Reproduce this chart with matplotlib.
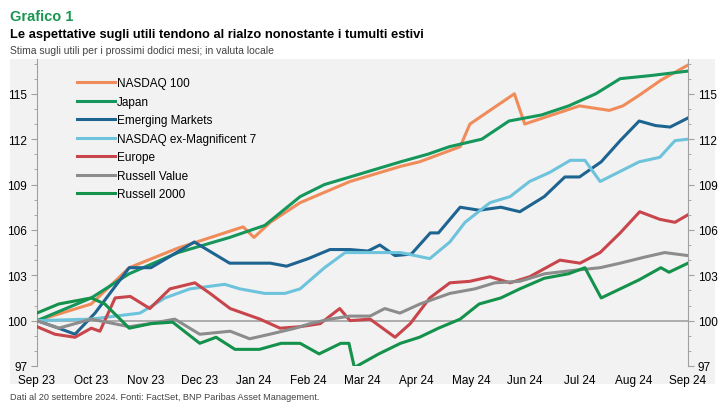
import matplotlib
matplotlib.use("Agg")
import matplotlib.pyplot as plt
from matplotlib.patches import Rectangle

plt.rcParams['font.family'] = ['Liberation Sans', 'DejaVu Sans']

months = ["Sep 23","Oct 23","Nov 23","Dec 23","Jan 24","Feb 24","Mar 24","Apr 24","May 24","Jun 24","Jul 24","Aug 24","Sep 24"]

nasdaq_x = [0,1.0,1.7,2.6,3.8,4.0,4.3,4.85,5.77,6.7,7.05,7.8,7.98,8.8,8.99,10.0,10.55,10.8,11.1,11.5,12]
nasdaq_y = [100,101.1,103.5,104.8,106.2,105.5,106.5,107.8,109.2,110.2,110.5,111.5,113,115,113,114.2,113.9,114.2,114.9,115.9,116.9]

japan_x = [0,1.0,1.7,2.6,3.55,4.2,4.85,5.3,5.77,6.7,7.2,7.6,8.2,8.7,9.3,9.8,10.3,10.75,11.3,12]
japan_y = [100,101.5,103.1,104.5,105.5,106.3,108.2,109.0,109.5,110.5,111.0,111.5,112.0,113.2,113.6,114.2,115.0,116,116.2,116.5]

em_x = [0,0.4,0.7,1.07,1.7,2.1,2.9,3.55,3.8,4.3,4.6,5.0,5.4,5.77,6.1,6.32,6.6,6.9,7.25,7.4,7.8,8.15,8.55,8.9,9.35,9.73,10.0,10.4,10.75,11.1,11.4,11.67,12]
em_y = [100,99.5,99.1,100.5,103.5,103.5,105.2,103.8,103.8,103.8,103.6,104.1,104.7,104.7,104.6,105.0,104.3,104.4,105.8,105.8,107.5,107.3,107.5,107.2,108.2,109.5,109.5,110.5,111.9,113.2,112.9,112.8,113.4]

exmag_x = [0,1.0,1.9,2.36,2.82,3.46,3.74,4.2,4.57,4.85,5.3,5.68,6.14,6.7,7.24,7.61,7.89,8.35,8.72,9.08,9.45,9.83,10.1,10.38,11.1,11.48,11.76,12]
exmag_y = [100,100.1,100.5,101.5,102.1,102.4,102.1,101.8,101.8,102.1,103.5,104.5,104.5,104.5,104.1,105.2,106.5,107.8,108.2,109.2,109.8,110.6,110.6,109.2,110.5,110.8,111.9,112]

eu_x = [0,0.33,0.7,1.0,1.16,1.44,1.72,2.08,2.45,2.91,3.19,3.56,4.11,4.48,4.85,5.22,5.58,5.77,6.14,6.6,6.88,7.24,7.61,7.98,8.35,8.72,9.08,9.64,10.01,10.38,10.75,11.11,11.48,11.76,12]
eu_y = [99.6,99.1,98.9,99.5,99.3,101.5,101.6,100.8,102.1,102.5,101.8,100.8,100.1,99.5,99.6,99.8,100.8,100,100.1,98.9,99.8,101.5,102.5,102.6,102.9,102.5,102.9,104,103.8,104.5,105.8,107.2,106.7,106.5,107]

rv_x = [0,0.4,1.0,1.7,2.08,2.54,3.0,3.56,3.92,4.29,4.76,5.03,5.4,5.77,6.14,6.41,6.69,7.06,7.61,8.07,8.44,8.9,9.36,9.83,10.38,10.75,11.2,11.57,12]
rv_y = [100,99.5,100.1,99.6,99.8,100.1,99.1,99.3,98.8,99.1,99.5,99.8,100.1,100.3,100.3,100.8,100.5,101.1,101.8,102.1,102.5,102.6,103.1,103.3,103.5,103.8,104.2,104.5,104.3]

r2k_x = [0,0.4,1.0,1.25,1.7,2.1,2.5,3.0,3.3,3.65,4.1,4.5,4.85,5.2,5.6,5.75,5.85,6.3,6.7,7.05,7.4,7.8,8.15,8.55,8.9,9.35,9.8,10.1,10.4,10.75,11.1,11.5,11.65,12]
r2k_y = [100.5,101.1,101.5,101.1,99.5,99.8,99.9,98.5,98.9,98.1,98.1,98.5,98.5,97.8,98.5,98.5,96.9,97.8,98.5,98.9,99.5,100.1,101.1,101.5,102.1,102.8,103.1,103.5,101.5,102.1,102.7,103.5,103.2,103.8]

series = [
    ("NASDAQ 100", nasdaq_x, nasdaq_y, "#f08c5a"),
    ("Japan", japan_x, japan_y, "#15965a"),
    ("Emerging Markets", em_x, em_y, "#1e6491"),
    ("NASDAQ ex-Magnificent 7", exmag_x, exmag_y, "#6ec3dc"),
    ("Europe", eu_x, eu_y, "#c8464b"),
    ("Russell Value", rv_x, rv_y, "#8c8c8c"),
    ("Russell 2000", r2k_x, r2k_y, "#14914b"),
]

fig = plt.figure(figsize=(7.25, 4.14), dpi=100)
fig.patches.append(Rectangle((10/725, 1-385/414), 705/725, 325/414, transform=fig.transFigure,
                             facecolor="#f2f2f2", edgecolor="none", zorder=-10))
ax = fig.add_axes([37/725, 1-367/414, 651/725, 307/414])
ax.set_zorder(5)
ax.patch.set_visible(False)
ax.axhline(100, color="#a0a0a0", lw=1.2, zorder=1)
order = [5, 4, 6, 3, 2, 0, 1]
for i in order:
    name, x, y, c = series[i]
    ax.plot(x, y, color=c, lw=2.2, label=name, zorder=2+i)
h, l = ax.get_legend_handles_labels()
lab_order = [series[i][0] for i in range(7)]
hl = dict(zip(l, h))
leg = ax.legend([hl[n] for n in lab_order], lab_order, loc="upper left", bbox_to_anchor=(0.045, 0.975),
                frameon=False, fontsize=8.5, handlelength=3.2, handletextpad=0.2, labelspacing=0.55)
ax.set_xlim(0, 12)
ax.set_ylim(97, 117.3)
ax.set_xticks(range(13))
ax.set_xticklabels(months, fontsize=8.5)
ax.set_yticks([97, 100, 103, 106, 109, 112, 115])
ax.set_yticks(range(97, 118), minor=True)
ax.tick_params(axis='y', which='both', left=True, right=True, labelleft=True, labelright=True,
               labelsize=8.5, color="#a0a0a0", length=4, pad=3)
ax.tick_params(axis='y', which='minor', length=2)
ax.tick_params(axis='x', length=0, pad=6)
for s in ["top", "bottom"]:
    ax.spines[s].set_visible(False)
for s in ["left", "right"]:
    ax.spines[s].set_color("#a0a0a0")

fig.text(10/725, 1-17/414, "Grafico 1", fontsize=10.5, fontweight="bold", color="#1a9650", va="center")
fig.text(10/725, 1-35/414, "Le aspettative sugli utili tendono al rialzo nonostante i tumulti estivi",
         fontsize=9.3, fontweight="bold", va="center")
fig.text(10/725, 1-51/414, "Stima sugli utili per i prossimi dodici mesi; in valuta locale",
         fontsize=7.5, color="#444444", va="center")
fig.text(10/725, 1-398/414, "Dati al 20 settembre 2024. Fonti: FactSet, BNP Paribas Asset Management.",
         fontsize=6.6, color="#444444", va="center")
fig.savefig("out.png", dpi=100)
